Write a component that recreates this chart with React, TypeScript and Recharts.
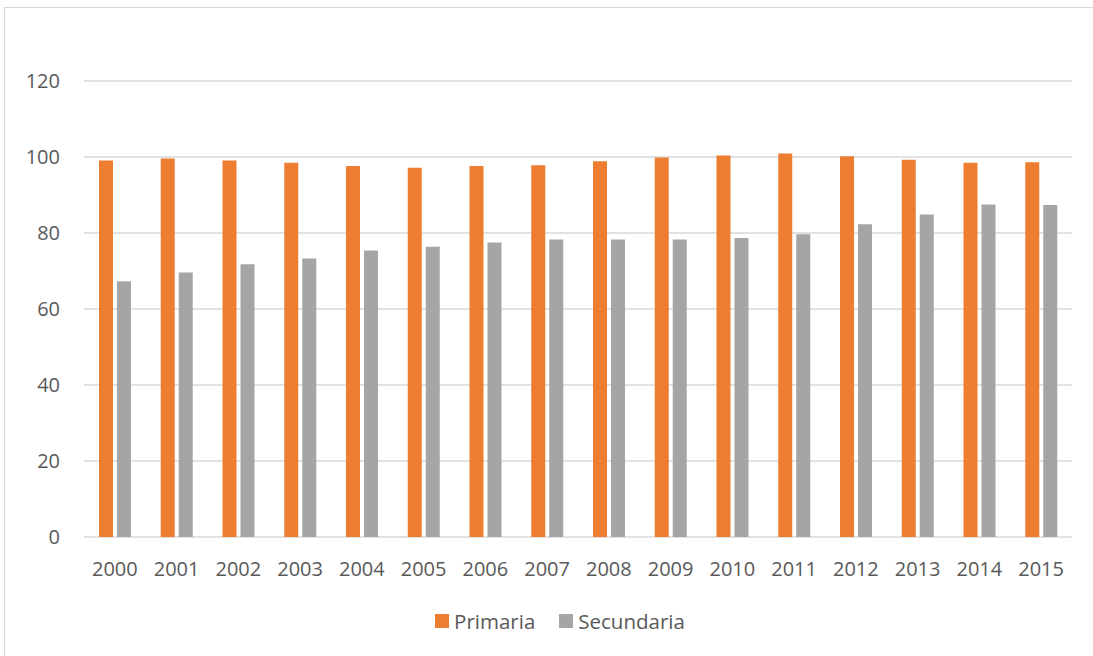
import { Bar, BarChart, CartesianGrid, Legend, XAxis, YAxis } from "recharts";

const years = [
  "2000", "2001", "2002", "2003", "2004", "2005", "2006", "2007",
  "2008", "2009", "2010", "2011", "2012", "2013", "2014", "2015",
];
const primaria = [
  99.1, 99.6, 99.1, 98.5, 97.6, 97.2, 97.6, 97.8,
  98.9, 99.9, 100.4, 100.9, 100.2, 99.3, 98.5, 98.6,
];
const secundaria = [
  67.3, 69.6, 71.8, 73.3, 75.4, 76.4, 77.5, 78.3,
  78.3, 78.3, 78.7, 79.7, 82.3, 84.9, 87.5, 87.4,
];
const yTicks = [0, 20, 40, 60, 80, 100, 120];

const data = years.map((y, i) => ({
  year: y,
  Primaria: primaria[i],
  Secundaria: secundaria[i],
}));

const ORANGE = "#ED7D31";
const GRAY = "#A5A5A5";
const INK = "#595959";
const RULE = "#d9d9d9";
const FONT = "'Open Sans', sans-serif";

function LegendBox({ payload }: any) {
  return (
    <div
      style={{
        display: "flex",
        justifyContent: "center",
        alignItems: "center",
        fontFamily: FONT,
        fontSize: 20.5,
        color: INK,
        paddingLeft: 27,
      }}
    >
      {(payload || []).map((p: any, i: number) => (
        <div
          key={p.value}
          style={{ display: "flex", alignItems: "center", marginLeft: i ? 24 : 0 }}
        >
          <span
            style={{ width: 14, height: 14, background: p.color, marginRight: 5, display: "inline-block" }}
          />
          <span>{p.value}</span>
        </div>
      ))}
    </div>
  );
}

export default function App() {
  return (
    <div style={{ position: "absolute", left: 0, top: 0, width: 1093, height: 656, overflow: "hidden", background: "#fff" }}>
      <div
        style={{
          position: "absolute",
          left: 4,
          top: 7,
          width: 1100,
          height: 660,
          border: `1px solid ${RULE}`,
        }}
      />
      <div style={{ position: "absolute", left: 0, top: 0 }}>
        <BarChart
          width={1093}
          height={656}
          data={data}
          margin={{ top: 81, right: 21, bottom: 79, left: 0 }}
          barSize={14}
          barGap={4}
        >
          <CartesianGrid vertical={false} stroke={RULE} strokeWidth={1.5} />
          <XAxis
            dataKey="year"
            height={40}
            axisLine={false}
            tickLine={false}
            tickSize={0}
            tickMargin={25}
            interval={0}
            tick={{ fill: INK, fontSize: 20, fontFamily: FONT }}
          />
          <YAxis
            width={84}
            domain={[0, 120]}
            ticks={yTicks}
            axisLine={false}
            tickLine={false}
            tickSize={0}
            tickMargin={24}
            tick={{ fill: INK, fontSize: 20, fontFamily: FONT }}
          />
          <Legend
            layout="horizontal"
            align="center"
            verticalAlign="middle"
            content={LegendBox}
            wrapperStyle={{ top: 607, left: 0, width: 1093 }}
          />
          <Bar dataKey="Primaria" fill={ORANGE} isAnimationActive={false} />
          <Bar dataKey="Secundaria" fill={GRAY} isAnimationActive={false} />
        </BarChart>
      </div>
    </div>
  );
}
